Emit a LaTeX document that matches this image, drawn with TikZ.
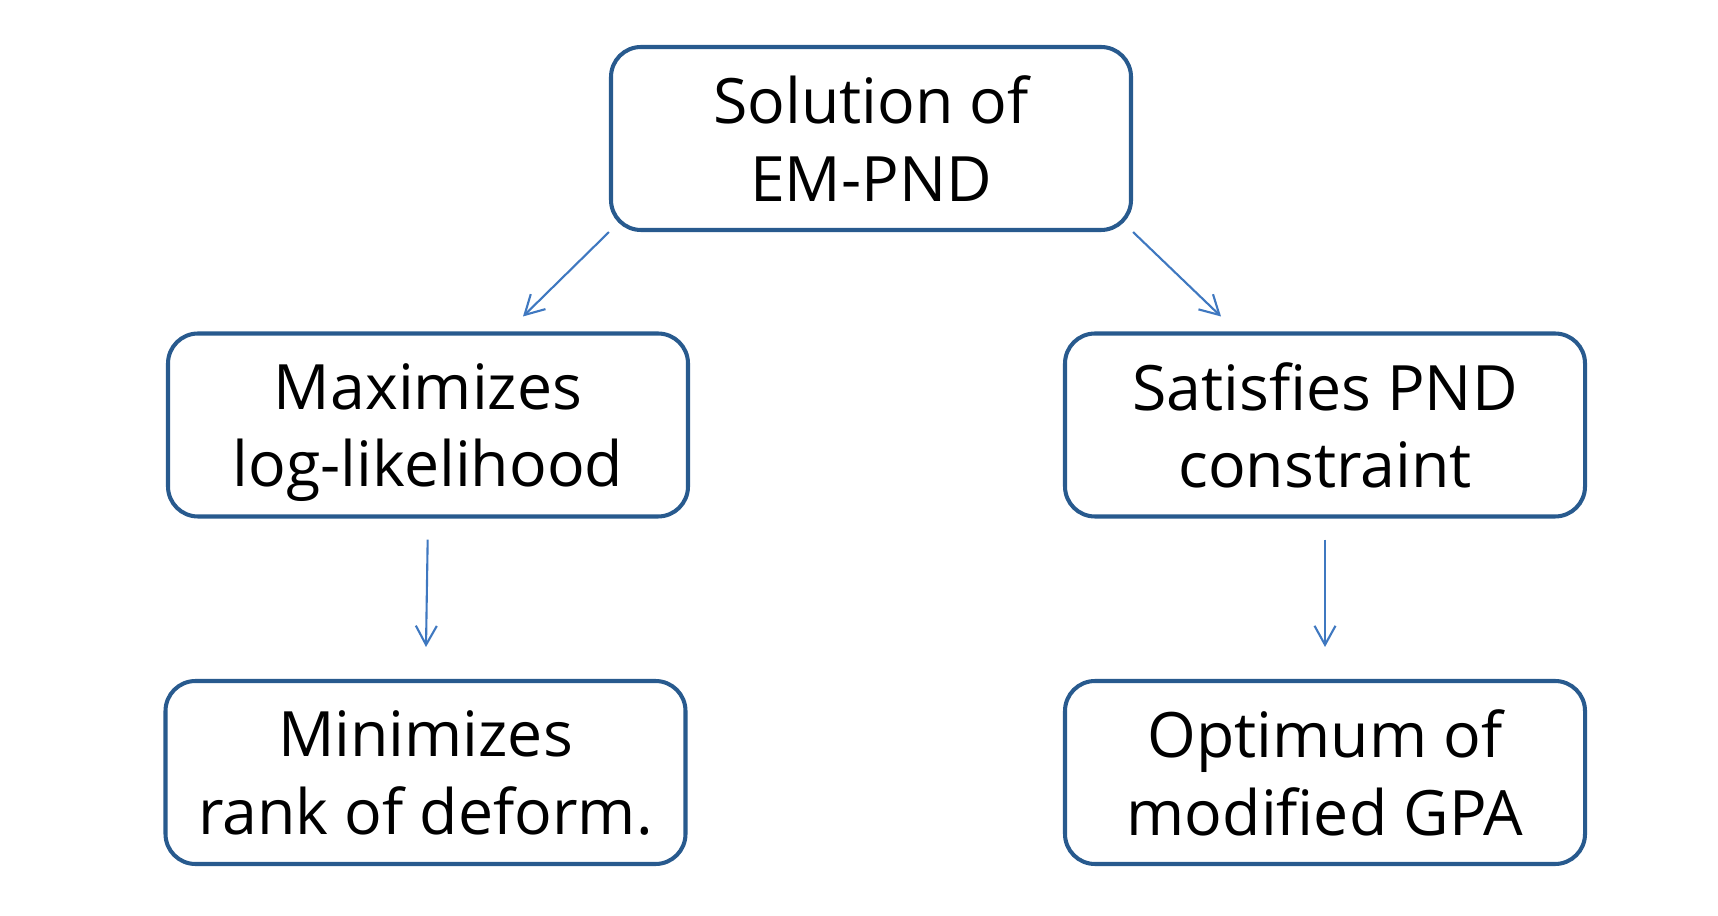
\documentclass[tikz,border=0pt]{standalone}
\usepackage{fontspec}
\setmainfont{Open Sans}
\usepackage{tikz}
\usetikzlibrary{arrows.meta, positioning, calc}
\definecolor{BoxBlue}{HTML}{285A8E}
\definecolor{ArrowBlue}{HTML}{3F78C0}

\begin{document}
\begin{tikzpicture}[
    box/.style={draw=BoxBlue, line width=1.15pt, rounded corners=0.3cm, minimum width=5.2cm, minimum height=1.83cm, align=center, text depth=0pt, font=\fontsize{17.8}{22}\selectfont, anchor=center},
    link/.style={draw=ArrowBlue, line width=0.6pt, -{Straight Barb[length=1.9mm, width=2.1mm]}}
]
\useasboundingbox (0,0) rectangle (17.18,9.15);

% Top
\node[box] (sol) at (8.71, 7.765) {Solution of\\EM-PND};

% Middle
\node[box] (loglik) at (4.28, 4.90) {Maximizes\\log-likelihood};
\node[box] (pnd) at (13.25, 4.90) {Satisfies PND\\constraint};

% Bottom
\node[box] (rank) at (4.255, 1.425) {Minimizes\\rank of deform.};
\node[box] (gpa) at (13.25, 1.425) {Optimum of\\modified GPA};

% Arrows
\draw[link] (sol.south west) -- ($(loglik.north)+(0.95,0.15)$);
\draw[link] (sol.south east) -- ($(pnd.north)+(-1.04,0.15)$);
\draw[link, shorten <=0.21cm, shorten >=0.32cm] (loglik.south) -- (rank.north);
\draw[link, shorten <=0.21cm, shorten >=0.32cm] (pnd.south) -- (gpa.north);

\end{tikzpicture}
\end{document}
